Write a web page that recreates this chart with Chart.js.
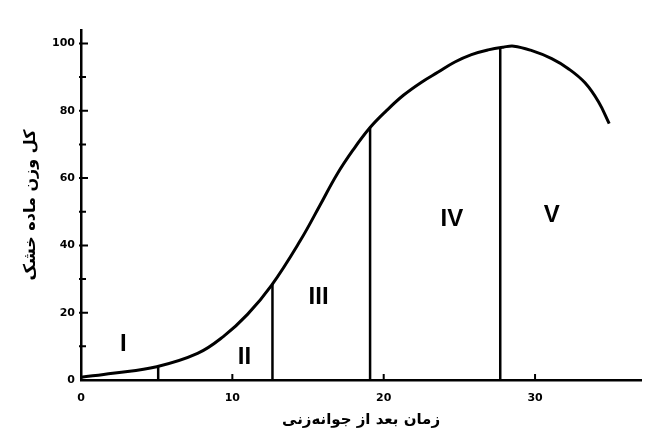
<!DOCTYPE html>
<html lang="fa">
<head>
<meta charset="utf-8">
<script src="https://cdn.jsdelivr.net/npm/chart.js@4/dist/chart.umd.min.js"></script>
<style>
  html, body { margin: 0; background: #fff; }
</style>
</head>
<body>
<canvas id="chart" width="647" height="439"></canvas>
<script>
// Curva di crescita (sostanza secca totale)
const curveDays = [0, 2.1, 5, 7.7, 9.4, 11, 12.6, 14.5, 15.8, 16.9, 18, 19.1, 20.2, 21.3, 22.5, 23.6, 24.7, 25.8, 26.9, 27.9, 28.6, 29.7, 31.1, 32.2, 33.3, 34.2, 34.9]
const curveWeight = [0.8, 2.0, 3.95, 7.9, 12.9, 19.5, 28.2, 41.5, 52, 61, 68.5, 75, 80.1, 84.6, 88.5, 91.5, 94.5, 96.7, 98.1, 98.9, 99.2, 98.0, 95.5, 92.5, 88.3, 82.6, 76.2]

// Linee verticali che separano le fasi
const boundaryDays = [5.1, 12.65, 19.1, 27.7]
const boundaryWeight = [4.0, 28.5, 75, 98.8]

const stageNames = ["I", "II", "III", "IV", "V"]
const stageDays = [2.8, 10.8, 15.7, 24.5, 31.1]
const stageWeight = [10.7, 6.8, 24.6, 47.8, 49]

const xTickValues = [0, 10, 20, 30]
const yTickValues = [0, 20, 40, 60, 80, 100]

const xTitle = "زمان بعد از جوانه‌زنی"
const yTitle = "کل وزن ماده خشک"

const persianFont = "'DejaVu Sans', sans-serif"
const tickFont = { family: "'DejaVu Sans', sans-serif", size: 11, weight: "bold" }

// Scrive i numeri romani delle fasi dentro l'area del grafico
const stageLabelsPlugin = {
  id: "stageLabels",
  afterDatasetsDraw(chart) {
    const { ctx, scales: { x, y } } = chart
    ctx.save()
    ctx.font = "bold 24px 'Liberation Sans', sans-serif"
    ctx.fillStyle = "#000"
    ctx.textAlign = "center"
    ctx.textBaseline = "middle"
    stageNames.forEach((name, i) => {
      ctx.fillText(name, x.getPixelForValue(stageDays[i]), y.getPixelForValue(stageWeight[i]))
    })
    ctx.restore()
  }
}

// Tacche rivolte verso l'interno, come nel disegno originale
const innerTicksPlugin = {
  id: "innerTicks",
  afterDraw(chart) {
    const { ctx, chartArea, scales: { x, y } } = chart
    ctx.save()
    ctx.strokeStyle = "#000"
    ctx.lineWidth = 2
    ctx.beginPath()
    y.ticks.forEach((tick) => {
      if (tick.value === 0) return
      const py = y.getPixelForValue(tick.value)
      const len = yTickValues.includes(tick.value) ? 7 : 5
      ctx.moveTo(chartArea.left - 2, py)
      ctx.lineTo(chartArea.left + len, py)
    })
    x.ticks.forEach((tick) => {
      if (tick.value === 0) return
      const px = x.getPixelForValue(tick.value)
      ctx.moveTo(px, chartArea.bottom)
      ctx.lineTo(px, chartArea.bottom - 6)
    })
    ctx.stroke()
    ctx.restore()
  }
}

const datasets = [
  {
    data: curveDays.map((d, i) => ({ x: d, y: curveWeight[i] })),
    borderColor: "#000",
    borderWidth: 3,
    pointRadius: 0,
    tension: 0.4
  },
  ...boundaryDays.map((d, i) => ({
    data: [{ x: d, y: 0 }, { x: d, y: boundaryWeight[i] }],
    borderColor: "#000",
    borderWidth: 2.5,
    pointRadius: 0
  }))
]

new Chart(document.getElementById("chart"), {
  type: "line",
  data: { datasets },
  options: {
    responsive: false,
    animation: false,
    layout: { padding: { left: 0, right: 6, top: 30, bottom: 0 } },
    plugins: { legend: { display: false }, tooltip: { enabled: false } },
    scales: {
      x: {
        type: "linear",
        min: 0,
        max: 37,
        grid: { display: false, drawTicks: false },
        border: { color: "#000", width: 2.5 },
        ticks: {
          stepSize: 10,
          includeBounds: false,
          padding: 12,
          color: "#000",
          font: tickFont,
          callback: (value) => xTickValues.includes(value) ? String(value) : ""
        },
        title: {
          display: true,
          text: xTitle,
          color: "#000",
          font: { family: persianFont, size: 15, weight: "bold" },
          padding: { top: 10, bottom: 10 }
        },
        afterFit: (scale) => { scale.height = 59 }
      },
      y: {
        min: 0,
        max: 104,
        grid: { display: false, drawTicks: false },
        border: { color: "#000", width: 2.5 },
        ticks: {
          stepSize: 10,
          includeBounds: false,
          padding: 6,
          color: "#000",
          font: tickFont,
          callback: (value) => yTickValues.includes(value) ? String(value) : ""
        },
        title: {
          display: true,
          text: yTitle,
          color: "#000",
          font: { family: persianFont, size: 16, weight: "bold" },
          padding: { top: 21, bottom: 0 }
        },
        afterFit: (scale) => { scale.width = 81 }
      }
    }
  },
  plugins: [stageLabelsPlugin, innerTicksPlugin]
})
</script>
</body>
</html>
